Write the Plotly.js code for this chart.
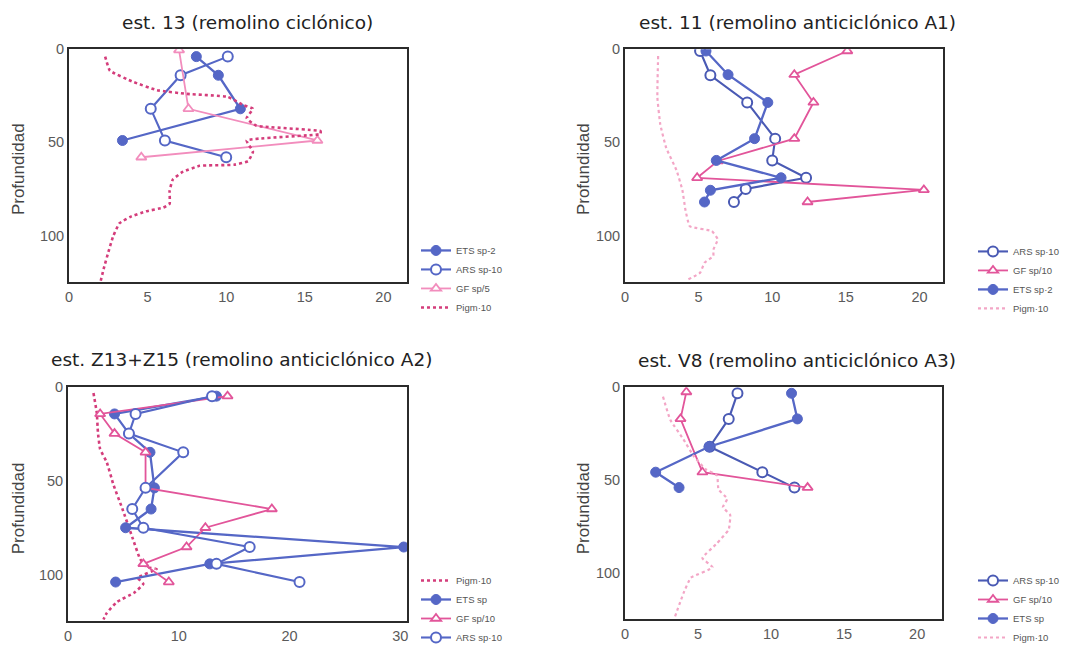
<!DOCTYPE html>
<html>
<head>
<meta charset="utf-8">
<script src="https://cdn.plot.ly/plotly-3.0.1.min.js"></script>
<style>html,body{margin:0;padding:0;background:#fff;}#chart{width:1076px;height:652px;}</style>
</head>
<body>
<div id="chart"></div>
<script>
// ---------- Panel 1: est. 13 (remolino ciclónico) ----------
const p1_title = "est. 13 (remolino ciclónico)";
const p1_ets_x = [8.1, 9.5, 10.9, 3.4];
const p1_ets_y = [4, 14, 32, 49];
const p1_ars_x = [10.1, 7.1, 5.2, 6.1, 10.0];
const p1_ars_y = [4, 14, 32, 49, 58];
const p1_gf_x = [7.0, 7.6, 15.8, 4.6];
const p1_gf_y = [0.5, 32, 49, 58];
const p1_pig_x = [2.3, 2.6, 4.1, 5.6, 7.5, 10.1, 11.1, 11.7, 11.3, 11.9, 16.0, 16.0, 11.3, 11.7, 11.4, 10.5, 8.3, 7.2, 6.6, 6.4, 6.4, 6.0, 4.9, 3.9, 3.2, 2.8, 2.5, 2.2, 2.0];
const p1_pig_y = [4, 11.5, 17.6, 22, 24, 25.6, 30, 32, 37, 41, 44, 45.5, 49, 55, 60, 62, 62.6, 66, 70, 76, 83, 85, 87, 90, 93.5, 100.6, 109, 118, 125];
const p1_names = ["ETS sp-2", "ARS sp-10", "GF sp/5", "Pigm·10"];

// ---------- Panel 2: est. 11 (remolino anticiclónico A1) ----------
const p2_title = "est. 11 (remolino anticiclónico A1)";
const p2_ars_x = [5.1, 5.8, 8.3, 10.2, 10.0, 12.3, 8.2, 7.4];
const p2_ars_y = [1, 14, 28.6, 48, 59.7, 69, 75, 82];
const p2_gf_x = [15.1, 11.5, 12.8, 11.5, 6.3, 4.9, 20.3, 12.4];
const p2_gf_y = [1, 13.7, 28.6, 48, 60, 69, 75.5, 82];
const p2_ets_x = [5.5, 7.0, 9.7, 8.8, 6.2, 10.6, 5.8, 5.4];
const p2_ets_y = [1, 13.7, 28.6, 48, 59.7, 69, 75.7, 82];
const p2_pig_x = [2.25, 2.2, 2.4, 2.8, 3.5, 3.9, 4.1, 4.4, 5.9, 6.3, 6.0, 6.0, 5.4, 5.1, 4.3];
const p2_pig_y = [3.7, 26, 40.5, 53, 65, 75.7, 86, 95, 97.6, 102, 107.6, 111, 114.6, 120, 123.5];
const p2_names = ["ARS sp·10", "GF sp/10", "ETS sp·2", "Pigm·10"];

// ---------- Panel 3: est. Z13+Z15 (remolino anticiclónico A2) ----------
const p3_title = "est. Z13+Z15 (remolino anticiclónico A2)";
const p3_pig_x = [2.3, 2.6, 2.7, 2.9, 3.5, 4.1, 4.9, 5.8, 6.5, 7.1, 8.0, 6.3, 6.8, 6.0, 4.4, 3.5, 3.2];
const p3_pig_y = [3, 13.7, 24, 33, 40, 52, 64.7, 80, 91.6, 96, 97, 101.7, 105, 109.6, 114.7, 120.6, 124];
const p3_ets_x = [13.4, 4.2, 5.5, 7.4, 7.8, 7.5, 5.2, 30.3, 12.8, 4.3];
const p3_ets_y = [4.7, 14.2, 24.7, 34.7, 53.7, 65, 75, 85.3, 94.3, 104];
const p3_gf_x = [14.4, 2.9, 4.2, 7.0, 7.0, 18.4, 12.4, 10.7, 6.8, 9.1];
const p3_gf_y = [4.7, 14.2, 24.7, 34.7, 53.7, 65, 75, 85.3, 94.3, 104];
const p3_ars_x = [13.0, 6.1, 5.5, 10.4, 7.0, 5.8, 6.8, 16.4, 13.4, 20.9];
const p3_ars_y = [4.7, 14.2, 24.7, 34.7, 53.7, 65, 75, 85.3, 94.3, 104];
const p3_names = ["Pigm·10", "ETS sp", "GF sp/10", "ARS sp·10"];

// ---------- Panel 4: est. V8 (remolino anticiclónico A3) ----------
const p4_title = "est. V8 (remolino anticiclónico A3)";
const p4_ars_x = [7.7, 7.1, 5.8, 9.4, 11.6];
const p4_ars_y = [3.2, 17, 32, 45.7, 54];
const p4_gf_x = [4.2, 3.8, 5.3, 12.5];
const p4_gf_y = [2.5, 17, 45.7, 54];
const p4_ets_x = [11.4, 11.8, 5.75, 2.1, 3.7];
const p4_ets_y = [3.2, 17, 32, 45.7, 54];
const p4_pig_x = [2.6, 3.1, 4.0, 4.7, 5.5, 6.3, 6.4, 7.0, 6.7, 7.2, 7.1, 6.3, 5.3, 6.0, 4.5, 4.0, 3.4];
const p4_pig_y = [5, 17.5, 28, 37, 44, 47.5, 55, 60, 64.6, 68.7, 76.6, 84, 92, 97, 102.6, 111, 124];
const p4_names = ["ARS sp·10", "GF sp/10", "ETS sp", "Pigm·10"];

// ---------- tick labels ----------
const xticks_a = [0, 5, 10, 15, 20];
const xticks_b = [0, 10, 20, 30];
const yticks = [0, 50, 100];
const ytitle = "Profundidad";

// ---------- styles ----------
const W = 1076, H = 652;
const FONT = "Liberation Sans, Arial, sans-serif";
const TFONT = "DejaVu Sans, Liberation Sans, sans-serif";
const BLUE = "#5567c6";
const BLUE_D = "#4a5ab4";
const PINK = "#e2559a";
const PINK_L = "#f28dbd";
const PIG_D = "#d43d7b";
const PIG_L = "#f3a6c6";

function ets(x, y, name, xa, ya, lg, color) {
  return {x, y, name, xaxis: xa, yaxis: ya, legend: lg, type: "scatter", mode: "lines+markers",
    line: {color: color || BLUE, width: 2.3},
    marker: {symbol: "circle", size: 10, color: color || BLUE, line: {color: color || BLUE, width: 1}}};
}
function ars(x, y, name, xa, ya, lg, color) {
  return {x, y, name, xaxis: xa, yaxis: ya, legend: lg, type: "scatter", mode: "lines+markers",
    line: {color: color || BLUE_D, width: 2.1},
    marker: {symbol: "circle", size: 10, color: "#ffffff", line: {color: color || BLUE_D, width: 2}}};
}
function gf(x, y, name, xa, ya, lg, color) {
  return {x, y, name, xaxis: xa, yaxis: ya, legend: lg, type: "scatter", mode: "lines+markers",
    line: {color: color, width: 1.8},
    marker: {symbol: "triangle-up", size: 9, color: "#ffffff", line: {color: color, width: 1.8}}};
}
function pig(x, y, name, xa, ya, lg, color, dash, w) {
  return {x, y, name, xaxis: xa, yaxis: ya, legend: lg, type: "scatter", mode: "lines",
    line: {color: color, width: w || 2.6, dash: dash, shape: "spline", smoothing: 0.35}};
}

const traces = [
  ets(p1_ets_x, p1_ets_y, p1_names[0], "x", "y", "legend", BLUE),
  ars(p1_ars_x, p1_ars_y, p1_names[1], "x", "y", "legend", BLUE),
  gf(p1_gf_x, p1_gf_y, p1_names[2], "x", "y", "legend", PINK_L),
  pig(p1_pig_x, p1_pig_y, p1_names[3], "x", "y", "legend", PIG_D, "dot", 2.6),

  ars(p2_ars_x, p2_ars_y, p2_names[0], "x2", "y2", "legend2", BLUE_D),
  gf(p2_gf_x, p2_gf_y, p2_names[1], "x2", "y2", "legend2", PINK),
  ets(p2_ets_x, p2_ets_y, p2_names[2], "x2", "y2", "legend2", BLUE),
  pig(p2_pig_x, p2_pig_y, p2_names[3], "x2", "y2", "legend2", PIG_L, "dot", 2.2),

  pig(p3_pig_x, p3_pig_y, p3_names[0], "x3", "y3", "legend3", PIG_D, "dot", 2.6),
  ets(p3_ets_x, p3_ets_y, p3_names[1], "x3", "y3", "legend3", BLUE),
  gf(p3_gf_x, p3_gf_y, p3_names[2], "x3", "y3", "legend3", PINK),
  ars(p3_ars_x, p3_ars_y, p3_names[3], "x3", "y3", "legend3", BLUE),

  ars(p4_ars_x, p4_ars_y, p4_names[0], "x4", "y4", "legend4", BLUE_D),
  gf(p4_gf_x, p4_gf_y, p4_names[1], "x4", "y4", "legend4", PINK),
  ets(p4_ets_x, p4_ets_y, p4_names[2], "x4", "y4", "legend4", BLUE),
  pig(p4_pig_x, p4_pig_y, p4_names[3], "x4", "y4", "legend4", PIG_L, "dot", 2.2)
];

function px(v) { return v / W; }
function py(v) { return 1 - v / H; }

function xax(l, r, range, ticks, anchor) {
  return {domain: [px(l), px(r)], range: range, anchor: anchor, tickvals: ticks, ticktext: ticks.map(String),
    showgrid: false, zeroline: false, showline: true, mirror: true, linecolor: "#2b2b2b", linewidth: 2,
    ticks: "", tickfont: {family: FONT, size: 14.5, color: "#5a5a5a"}, fixedrange: true};
}
function yax(top, bottom, anchor) {
  return {domain: [py(bottom), py(top)], range: [125, 0], anchor: anchor, tickvals: yticks, ticktext: yticks.map(String),
    showgrid: false, zeroline: false, showline: true, mirror: true, linecolor: "#2b2b2b", linewidth: 2,
    ticks: "", ticklabelstandoff: 0, tickfont: {family: FONT, size: 14.5, color: "#5a5a5a"}, fixedrange: true};
}
function legendAt(x, y) {
  return {x: px(x), y: py(y), xanchor: "left", yanchor: "top", bgcolor: "rgba(0,0,0,0)",
    font: {family: FONT, size: 9.5, color: "#555"}, itemwidth: 30, tracegroupgap: 0, borderwidth: 0};
}
function titleAnn(text, cx, cy) {
  return {text: text, x: px(cx), y: py(cy), xref: "paper", yref: "paper", showarrow: false,
    xanchor: "center", yanchor: "middle", font: {family: TFONT, size: 18.5, color: "#222"}};
}
function yTitleAnn(cx, cy) {
  return {text: ytitle, x: px(cx), y: py(cy), xref: "paper", yref: "paper", showarrow: false, textangle: -90,
    xanchor: "center", yanchor: "middle", font: {family: FONT, size: 17, color: "#444"}};
}

const layout = {
  width: W, height: H, margin: {l: 0, r: 0, t: 0, b: 0},
  paper_bgcolor: "#ffffff", plot_bgcolor: "#ffffff",
  showlegend: true,
  font: {family: FONT},
  xaxis: xax(69, 407, [0, 21.5], xticks_a, "y"),
  yaxis: yax(50, 287, "x"),
  xaxis2: xax(625, 943, [0, 21.6], xticks_a, "y2"),
  yaxis2: yax(50, 287, "x2"),
  xaxis3: xax(68, 407, [0, 30.6], xticks_b, "y3"),
  yaxis3: yax(394, 632, "x3"),
  xaxis4: xax(625, 942, [0, 21.7], xticks_a, "y4"),
  yaxis4: yax(394, 630, "x4"),
  legend: legendAt(416, 240),
  legend2: legendAt(973, 241),
  legend3: legendAt(416, 576),
  legend4: legendAt(973, 576),
  annotations: [
    titleAnn(p1_title, 247, 23),
    titleAnn(p2_title, 797, 23),
    titleAnn(p3_title, 241, 366),
    titleAnn(p4_title, 797, 367),
    yTitleAnn(18, 172),
    yTitleAnn(583, 172),
    yTitleAnn(18, 517),
    yTitleAnn(583, 517)
  ]
};

Plotly.newPlot("chart", traces, layout, {displayModeBar: false, staticPlot: true});
</script>
</body>
</html>
